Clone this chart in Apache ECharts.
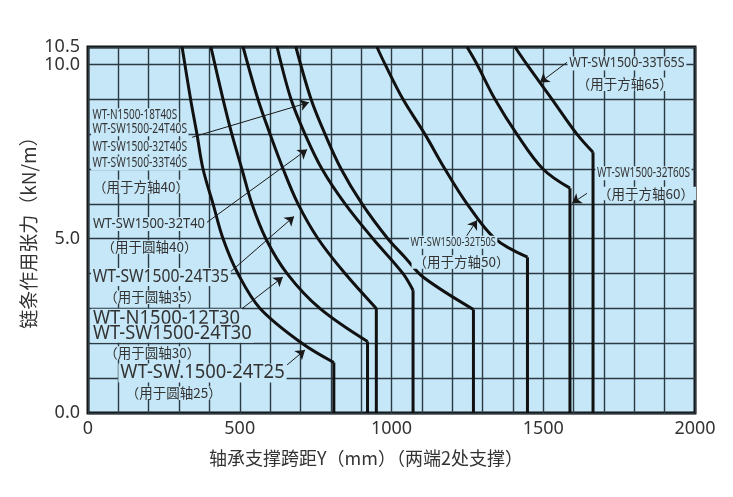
<!DOCTYPE html>
<html><head><meta charset="utf-8">
<script src="https://cdn.jsdelivr.net/npm/echarts@6/dist/echarts.min.js"></script>
<style>html,body{margin:0;padding:0;background:#fff}#c{width:733px;height:497px}</style>
</head><body><div id="c"></div>
<script>
// axis tick labels
const xTickLabels = [0, 500, 1000, 1500, 2000];
const yTickLabels = [0, 5, 10];
const yTopLabel = [10.5];

// curves [span mm, tension kN/m]; last point = foot of vertical drop
const curveRound25 = [[310,10.5],[338,9],[359,8],[379,7],[412,6],[445,5],[494,4],[567,3],[705,2],[810,1.45],[810,0]];
const curveRound30 = [[405,10.5],[445,9],[474,8],[507,7],[540,6],[586,5],[656,4],[764,3],[921,2.05],[921,0]];
const curveRound35 = [[511,10.5],[560,9],[600,8],[643,7],[692,6],[758,5],[847,4],[950,3.0],[950,0]];
const curveRound40 = [[623,10.5],[669,9],[715,8],[771,7],[847,6],[939,5],[1038,4],[1071,3.52],[1071,0]];
const curveSquare40 = [[685,10.5],[735,9],[781,8],[834,7],[903,6],[988,5],[1044,4.47],[1104,3.9],[1270,2.97],[1270,0]];
const curveSquare50 = [[952,10.5],[979,10],[1038,9],[1110,8],[1176,7],[1249,6],[1341,5],[1448,4.47],[1448,0]];
const curveSquare60 = [[1249,10.5],[1282,10],[1341,9],[1413,8],[1499,7],[1588,6.45],[1588,0]];
const curveSquare65 = [[1407,10.5],[1446,10],[1529,9],[1611,8],[1664,7.48],[1664,0]];

// annotation texts
const labelTexts = [
  'WT-N1500-18T40S','WT-SW1500-24T40S','WT-SW1500-32T40S','WT-SW1500-33T40S','（用于方轴40）',
  'WT-SW1500-32T40','（用于圆轴40）',
  'WT-SW1500-24T35','（用于圆轴35）',
  'WT-N1500-12T30','WT-SW1500-24T30','（用于圆轴30）',
  'WT-SW.1500-24T25','（用于圆轴25）',
  'WT-SW1500-33T65S','（用于方轴65）',
  'WT-SW1500-32T60S','（用于方轴60）',
  'WT-SW1500-32T50S','（用于方轴50）'
];
// anchors of annotation texts (left-middle, in data units)
const labelAnchors = [
  [10,8.54],[10,8.14],[10,7.62],[10,7.16],[10,6.50],
  [10,5.42],[38,4.76],
  [10,3.90],[47,3.32],
  [10,2.72],[10,2.29],[47,1.72],
  [100,1.15],[118,0.57],
  [1580,10.03],[1604,9.43],
  [1672,6.88],[1674,6.30],
  [1058,4.90],[1066,4.33]
];
// text style per annotation: [font key, font size, horizontal squeeze]
const labelStyles = [
  ['s',14,0.71],['s',14,0.73],['s',14,0.73],['s',14,0.73],['c',13.5,1],
  ['s',14,0.92],['c',13.5,1],
  ['s',18,0.87],['c',13.5,1],
  ['s',19,0.97],['s',19,0.96],['c',13.5,1],
  ['s',19,0.97],['c',13.5,1],
  ['s',14,0.89],['c',13.5,1],
  ['s',14,0.72],['c',13.5,1],
  ['s',13,0.71],['c',13.5,1]
];

// leader arrows [from, to] in data units
const arrowLines = [
  [[343,7.91],[728,8.91]],
  [[392,5.47],[722,7.56]],
  [[468,4.04],[679,5.64]],
  [[501,2.95],[642,3.90]],
  [[656,1.38],[715,1.81]],
  [[1242,5.01],[1282,5.53]],
  [[1578,10.06],[1489,9.48]],
  [[1644,6.30],[1595,6.02]]
];

const plotBg = '#c6e7f7';
const fonts = {s:'"Noto Sans", sans-serif', c:'"Noto Sans CJK SC", sans-serif'};
const curves = [curveRound25, curveRound30, curveRound35, curveRound40, curveSquare40, curveSquare50, curveSquare60, curveSquare65];

const series = [];
curves.forEach(function (c) {
  const n = c.length;
  series.push({type:'line', data:c.slice(0, n-1), smooth:0.35, showSymbol:false, symbol:'none',
    lineStyle:{color:'#111', width:3}, z:4, silent:true});
  series.push({type:'line', data:c.slice(n-2), smooth:false, showSymbol:false, symbol:'none',
    lineStyle:{color:'#111', width:3}, z:4, silent:true});
});
series.push({
  type:'lines', coordinateSystem:'cartesian2d', z:5, silent:true,
  symbol:['none','arrow'], symbolSize:[1,9],
  lineStyle:{color:'#1a1a1a', width:1, opacity:1, curveness:0},
  data: arrowLines.map(function (a) { return {coords:[a[0], a[1]]}; })
});

const yLabelStyle = {margin:8, color:'#333', fontSize:18, fontFamily:'"Noto Sans", sans-serif', hideOverlap:false,
  formatter:function (v) { return Number(v).toFixed(1); }};

const chart = echarts.init(document.getElementById('c'), null, {renderer:'canvas'});
chart.setOption({
  animation:false,
  backgroundColor:'#ffffff',
  grid:{left:88, right:38, top:47, bottom:84, show:true, backgroundColor:plotBg, borderColor:'#111', borderWidth:3, containLabel:false},
  xAxis:{type:'value', min:0, max:2000, interval:100,
    axisLine:{show:false}, axisTick:{show:false},
    splitLine:{show:true, lineStyle:{color:'#2c3a44', width:1.4}},
    axisLabel:{margin:7, color:'#333', fontSize:18, fontFamily:'"Noto Sans", sans-serif',
      showMinLabel:true, showMaxLabel:true,
      customValues:xTickLabels, formatter:function (v) { return String(v); }}
  },
  yAxis:[
    {type:'value', min:0, max:10.5, interval:1, position:'left',
      axisLine:{show:false}, axisTick:{show:false},
      splitLine:{show:true, lineStyle:{color:'#2c3a44', width:1.4}},
      axisLabel:Object.assign({customValues:yTickLabels, showMinLabel:true}, yLabelStyle)},
    {type:'value', min:0, max:10.5, position:'left', offset:0,
      axisLine:{show:false}, axisTick:{show:false}, splitLine:{show:false},
      axisLabel:Object.assign({customValues:yTopLabel, showMaxLabel:true}, yLabelStyle)}
  ],
  series:series
});

const graphics = [
  {type:'text', x:366, y:458, z:100, style:{text:'轴承支撑跨距Y（mm）（两端2处支撑）', align:'center', verticalAlign:'middle',
    fontFamily:fonts.c, fontSize:18, fill:'#333'}},
  {type:'text', x:29, y:228, rotation:Math.PI/2, z:100, style:{text:'链条作用张力（kN/m）', align:'center', verticalAlign:'middle',
    fontFamily:fonts.c, fontSize:19, fill:'#333'}}
];
labelTexts.forEach(function (t, i) {
  const p = chart.convertToPixel({xAxisIndex:0, yAxisIndex:0}, labelAnchors[i]);
  const st = labelStyles[i];
  graphics.push({type:'text', x:p[0], y:p[1], scaleX:st[2], z:100, silent:true,
    style:{text:t, align:'left', verticalAlign:'middle', fontFamily:fonts[st[0]], fontSize:st[1], fill:'#333',
      backgroundColor:plotBg, padding:[0,2]}});
});
chart.setOption({graphic:graphics});
</script>
</body></html>
